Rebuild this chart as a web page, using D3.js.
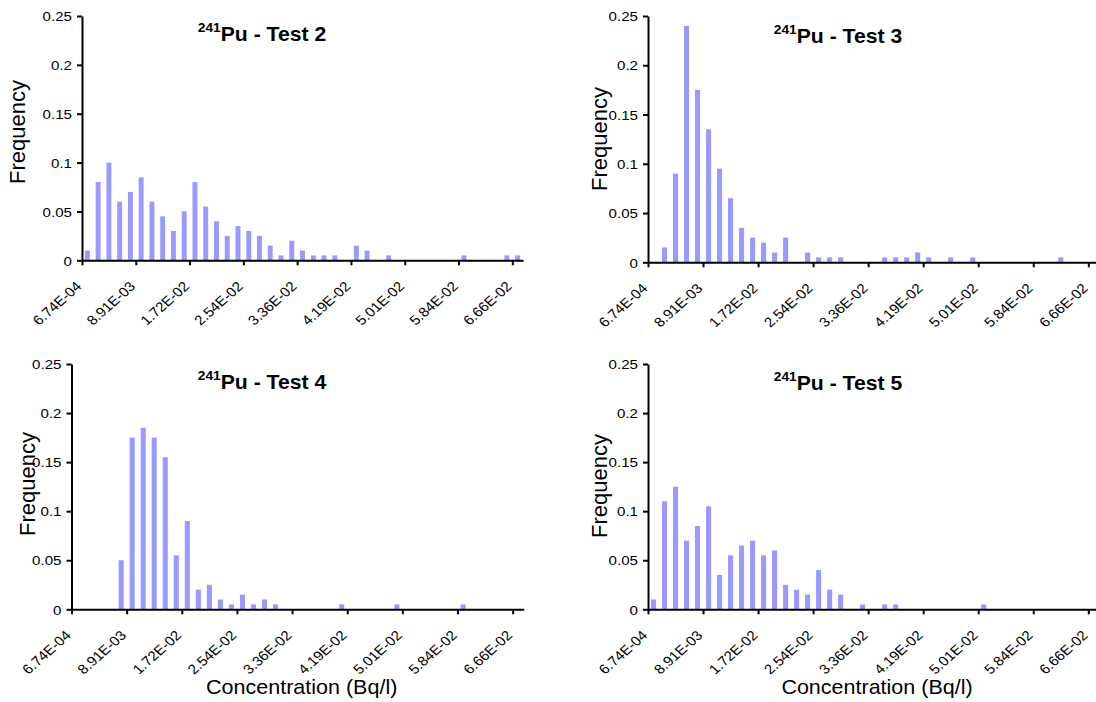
<!DOCTYPE html>
<html>
<head>
<meta charset="utf-8">
<script src="https://cdn.jsdelivr.net/npm/d3@7"></script>
<style>
  html, body { margin: 0; padding: 0; background: #ffffff; }
  svg { display: block; font-family: "Liberation Sans", Arial, sans-serif; }
</style>
</head>
<body>
<svg id="chart" width="1096" height="702"></svg>
<script>
// ---- data ----
const binCount = 41;
const xTickBins = [0, 5, 10, 15, 20, 25, 30, 35, 40];
const xTickLabels = ["6.74E-04", "8.91E-03", "1.72E-02", "2.54E-02", "3.36E-02", "4.19E-02", "5.01E-02", "5.84E-02", "6.66E-02"];
const yTickValues = [0, 0.05, 0.1, 0.15, 0.2, 0.25];
const yTickLabels = ["0", "0.05", "0.1", "0.15", "0.2", "0.25"];
const titles = ["Test 2", "Test 3", "Test 4", "Test 5"];
const isotope = "241";
const element = "Pu";
const yLabel = "Frequency";
const xLabel = "Concentration (Bq/l)";

const test2 = [0.01, 0.08, 0.1, 0.06, 0.07, 0.085, 0.06, 0.045, 0.03, 0.05,
               0.08, 0.055, 0.04, 0.025, 0.035, 0.03, 0.025, 0.015, 0.005, 0.02,
               0.01, 0.005, 0.005, 0.005, 0, 0.015, 0.01, 0, 0.005, 0,
               0, 0, 0, 0, 0, 0.005, 0, 0, 0, 0.005, 0.005];
const test3 = [0, 0.015, 0.09, 0.24, 0.175, 0.135, 0.095, 0.065, 0.035, 0.025,
               0.02, 0.01, 0.025, 0, 0.01, 0.005, 0.005, 0.005, 0, 0,
               0, 0.005, 0.005, 0.005, 0.01, 0.005, 0, 0.005, 0, 0.005,
               0, 0, 0, 0, 0, 0, 0, 0.005, 0, 0, 0];
const test4 = [0, 0, 0, 0, 0.05, 0.175, 0.185, 0.175, 0.155, 0.055,
               0.09, 0.02, 0.025, 0.01, 0.005, 0.015, 0.005, 0.01, 0.005, 0,
               0, 0, 0, 0, 0.005, 0, 0, 0, 0, 0.005,
               0, 0, 0, 0, 0, 0.005, 0, 0, 0, 0, 0];
const test5 = [0.01, 0.11, 0.125, 0.07, 0.085, 0.105, 0.035, 0.055, 0.065, 0.07,
               0.055, 0.06, 0.025, 0.02, 0.015, 0.04, 0.02, 0.015, 0, 0.005,
               0, 0.005, 0.005, 0, 0, 0, 0, 0, 0, 0,
               0.005, 0, 0, 0, 0, 0, 0, 0, 0, 0, 0];
const seriesList = [test2, test3, test4, test5];

// ---- layout ----
const panels = [
  { x0: 82,   xLast: 512.3,  yTop: 16,  yBot: 260.3, tX: 262, tY: 40.7,  fX: 25,  fY: 132, cX: null },
  { x0: 648,  xLast: 1088.3, yTop: 16,  yBot: 262.3, tX: 838, tY: 42.7,  fX: 607, fY: 139, cX: null },
  { x0: 71.5, xLast: 512.7,  yTop: 364, yBot: 609.3, tX: 262, tY: 389.3, fX: 35,  fY: 484, cX: 301.7 },
  { x0: 648,  xLast: 1088.3, yTop: 364, yBot: 609.3, tX: 838, tY: 390,   fX: 607, fY: 486, cX: 877 }
];

const barColor = "#9999FF";
const svg = d3.select("#chart");

panels.forEach((p, k) => {
  const data = seriesList[k];
  const step = (p.xLast - p.x0) / 40;
  const xEnd = p.x0 + step * binCount;
  const g = svg.append("g");

  const xLin = d3.scaleLinear().domain([0, binCount]).range([p.x0, xEnd]);
  const xBand = d3.scaleBand().domain(d3.range(binCount)).range([p.x0, xEnd])
                  .paddingInner(0.54).paddingOuter(0.27);
  const y = d3.scaleLinear().domain([0, 0.25]).range([p.yBot, p.yTop]);

  // bars
  g.append("g").selectAll("rect")
    .data(data.map((v, i) => ({ i, v })).filter(d => d.v > 0))
    .join("rect")
    .attr("x", d => xBand(d.i))
    .attr("width", xBand.bandwidth())
    .attr("y", d => y(d.v))
    .attr("height", d => y(0) - y(d.v))
    .attr("fill", barColor);

  // y axis
  const yAxis = g.append("g").attr("transform", `translate(${p.x0},0)`)
    .call(d3.axisLeft(y).tickValues(yTickValues).tickSize(5).tickSizeOuter(0)
      .tickFormat((d, i) => yTickLabels[i]));
  yAxis.select(".domain").attr("stroke", "#000").attr("stroke-width", 2);
  yAxis.selectAll(".tick line").attr("stroke", "#000").attr("stroke-width", 2);
  yAxis.selectAll(".tick text").remove();
  yAxis.selectAll(".tick").append("text")
    .attr("transform", "translate(-10,0) scale(1.12,1)")
    .attr("text-anchor", "end")
    .attr("dy", "0.35em")
    .attr("fill", "#000")
    .style("font-size", "13.5px")
    .text((d, i) => yTickLabels[i]);

  // x axis
  const xAxis = g.append("g").attr("transform", `translate(0,${p.yBot})`)
    .call(d3.axisBottom(xLin).tickValues(xTickBins).tickSize(5).tickSizeOuter(0)
      .tickFormat((d, i) => xTickLabels[i]));
  xAxis.select(".domain").attr("stroke", "#000").attr("stroke-width", 2);
  xAxis.selectAll(".tick line").attr("stroke", "#000").attr("stroke-width", 2);
  xAxis.selectAll(".tick text").remove();
  xAxis.selectAll(".tick").append("text")
    .attr("transform", "translate(0,27) scale(1.12,1) rotate(-45)")
    .attr("text-anchor", "end")
    .attr("fill", "#000")
    .style("font-size", "13.5px")
    .text((d, i) => xTickLabels[i]);

  // title
  const t = g.append("text")
    .attr("transform", `translate(${p.tX},${p.tY}) scale(1.06,1)`)
    .attr("text-anchor", "middle")
    .attr("font-weight", "bold")
    .attr("fill", "#000");
  t.append("tspan").attr("dy", -9).style("font-size", "13px").text(isotope);
  t.append("tspan").attr("dy", 9).style("font-size", "20px").text(element + " - " + titles[k]);

  // y label
  g.append("text")
    .attr("transform", `translate(${p.fX},${p.fY}) rotate(-90)`)
    .attr("text-anchor", "middle")
    .attr("fill", "#000")
    .style("font-size", "22px")
    .text(yLabel);

  // x label
  if (p.cX !== null) {
    g.append("text")
      .attr("transform", `translate(${p.cX},694) scale(1.05,1)`)
      .attr("text-anchor", "middle")
      .attr("fill", "#000")
      .style("font-size", "20.5px")
      .text(xLabel);
  }
});
</script>
</body>
</html>
